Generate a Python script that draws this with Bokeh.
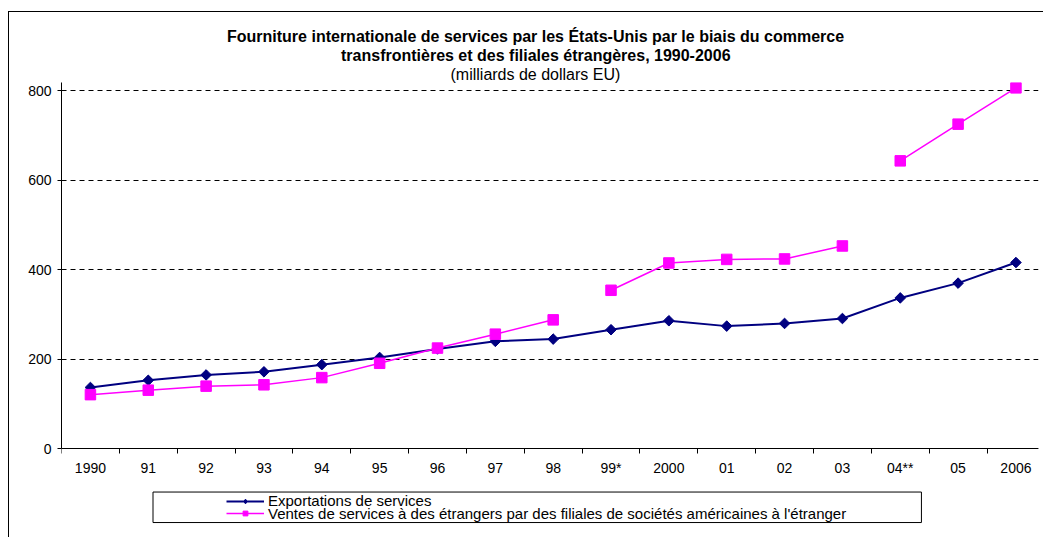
import math
from bokeh.plotting import figure
from bokeh.models import Range1d, FixedTicker, Legend, LegendItem, Title, BoxAnnotation
from bokeh.embed import file_html
from bokeh.resources import INLINE

# ---- data -------------------------------------------------------------
categories = ["1990", "91", "92", "93", "94", "95", "96", "97", "98", "99*",
              "2000", "01", "02", "03", "04**", "05", "2006"]
exports = [137, 153, 165, 172, 188, 204, 223, 240, 245, 266,
           286, 274, 280, 291, 337, 370, 416]
affiliates = [121, 131, 140, 143, 159, 191, 225, 256, 288, 354,
              415, 423, 424, 453, 643, 725, 806]
# the affiliates series is broken (methodology changes) into three pieces
affiliate_segments = [("1990", "98"), ("99*", "03"), ("04**", "2006")]
y_ticks = [0, 200, 400, 600, 800]

title_lines = [
    "Fourniture internationale de services par les États-Unis par le biais du commerce",
    "transfrontières et des filiales étrangères, 1990-2006",
    "(milliards de dollars EU)",
]
label_exports = "Exportations de services"
label_affiliates = "Ventes de services à des étrangers par des filiales de sociétés américaines à l'étranger"

NAVY = "#000080"
PINK = "#FF00FF"
FONT = "Liberation Sans"

xs = [i + 0.5 for i in range(len(categories))]

# frame extends below the value axis so the legend can live inside it
p = figure(width=1035, height=526, output_backend="svg", toolbar_location=None,
           x_range=Range1d(0, 16.89), y_range=Range1d(-198, 818),
           min_border_left=52, min_border_right=6, min_border_top=70,
           min_border_bottom=1)
p.outline_line_color = None
p.background_fill_color = "white"
p.border_fill_color = "white"
p.styles = {"margin-left": "8px", "margin-top": "11px",
            "border-left": "1px solid black", "border-top": "1px solid black"}

# axes
p.xaxis.fixed_location = 0
p.xaxis.ticker = FixedTicker(ticks=xs, minor_ticks=list(range(len(categories) + 1)))
p.xaxis.major_label_overrides = {x: c for x, c in zip(xs, categories)}
p.xaxis.major_tick_out = 0
p.xaxis.major_tick_in = 0
p.xaxis.minor_tick_out = 5
p.xaxis.minor_tick_in = 0
p.xaxis.minor_tick_line_color = "black"
p.xaxis.major_label_standoff = 6

p.yaxis.ticker = FixedTicker(ticks=y_ticks)
p.yaxis.bounds = (0, 818)
p.yaxis.major_tick_out = 4
p.yaxis.major_tick_in = 0
p.yaxis.minor_tick_out = 0
p.yaxis.minor_tick_in = 0
p.yaxis.major_label_standoff = 6

for ax in (p.xaxis, p.yaxis):
    ax.axis_line_color = "black"
    ax.major_tick_line_color = "black"
    ax.major_label_text_font = FONT
    ax.major_label_text_font_size = "14px"
    ax.major_label_text_color = "black"

p.xgrid.visible = False
p.ygrid.grid_line_color = "black"
p.ygrid.grid_line_dash = "5 4"
p.ygrid.grid_line_width = 1

# series
navy_line = p.line(xs, exports, line_color=NAVY, line_width=2)
# upright diamonds (also used as the legend swatch), covered by the rotated squares
navy_diamonds = p.scatter(xs, exports, marker="diamond", size=9,
                          fill_color=NAVY, line_color=NAVY)
navy_pts = p.scatter(xs, exports, marker="square", angle=math.pi / 4, size=7.5,
                     fill_color=NAVY, line_color=NAVY)

pink_lines = []
for a, b in affiliate_segments:
    i0, i1 = categories.index(a), categories.index(b) + 1
    pink_lines.append(p.line(xs[i0:i1], affiliates[i0:i1], line_color=PINK, line_width=1.5))
pink_pts = p.scatter(xs, affiliates, marker="square", size=10.5,
                     fill_color=PINK, line_color=PINK)

# title: three stacked lines (last added is the top one)
title_offsets = [165.5, 279.5, 389]
for text, off, bold in reversed(list(zip(title_lines, title_offsets, [True, True, False]))):
    p.add_layout(Title(text=text, align="left", offset=off, standoff=0,
                       text_font=FONT, text_font_size="16px",
                       text_font_style="bold" if bold else "normal",
                       text_color="black"), "above")

# legend box and entries
p.add_layout(BoxAnnotation(left=1.582, right=14.866, top=-96.5, bottom=-164.6,
                           fill_alpha=0, line_color="black", line_alpha=1,
                           line_width=1))

def make_legend(item, loc):
    return Legend(items=[item], location=loc, border_line_color=None,
                  background_fill_alpha=0, padding=0, margin=0, spacing=0,
                  glyph_width=38, glyph_height=12, label_height=12,
                  label_standoff=4, label_text_font=FONT,
                  label_text_font_size="15px", label_text_color="black")

p.add_layout(make_legend(LegendItem(label=label_exports,
                                    renderers=[navy_line, navy_diamonds]),
                         (165, 27.8)))
p.add_layout(make_legend(LegendItem(label=label_affiliates,
                                    renderers=[pink_lines[0], pink_pts]),
                         (165, 15.5)))

open("out.html", "w").write(file_html(p, INLINE))
